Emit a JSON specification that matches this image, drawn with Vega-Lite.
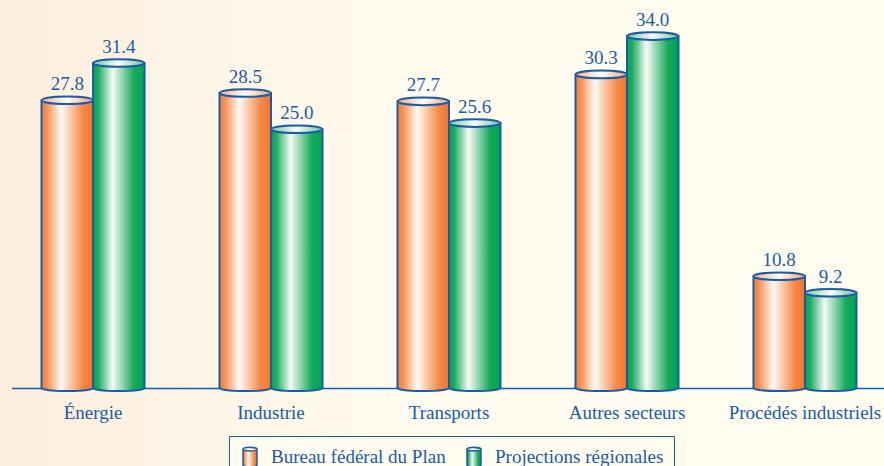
{"$schema":"https://vega.github.io/schema/vega-lite/v6.json","width":884,"height":466,"padding":0,"autosize":{"type":"none"},"background":"#fffcf0",
"config":{"view":{"stroke":null,"fill":{"gradient":"linear","x1":0,"y1":0,"x2":1,"y2":0,"stops":[{"offset":0,"color":"#fdeedd"},{"offset":0.45,"color":"#fffbef"},{"offset":1,"color":"#fffcf0"}]}}},
"data":{"values":[
{"secteur":"Énergie","serie":"Bureau fédéral du Plan","valeur":27.8},{"secteur":"Énergie","serie":"Projections régionales","valeur":31.4},
{"secteur":"Industrie","serie":"Bureau fédéral du Plan","valeur":28.5},{"secteur":"Industrie","serie":"Projections régionales","valeur":25.0},
{"secteur":"Transports","serie":"Bureau fédéral du Plan","valeur":27.7},{"secteur":"Transports","serie":"Projections régionales","valeur":25.6},
{"secteur":"Autres secteurs","serie":"Bureau fédéral du Plan","valeur":30.3},{"secteur":"Autres secteurs","serie":"Projections régionales","valeur":34.0},
{"secteur":"Procédés industriels","serie":"Bureau fédéral du Plan","valeur":10.8},{"secteur":"Procédés industriels","serie":"Projections régionales","valeur":9.2}]},
"encoding":{
"x":{"field":"secteur","type":"nominal","sort":null,"title":null,"scale":{"range":[11.5,886.5],"paddingInner":0.2,"paddingOuter":0.058},"axis":{"orient":"bottom","offset":-78,"domain":true,"domainColor":"#1a5ca8","domainWidth":1.5,"ticks":false,"labelAngle":0,"labelPadding":15,"labelFontSize":19,"labelFont":"Liberation Serif","labelColor":"#1a5ca8","labelBound":false,"labelOverlap":false,"labelFlush":false}},
"xOffset":{"field":"serie","type":"nominal","scale":{"domain":["Bureau fédéral du Plan","Projections régionales"],"paddingInner":0,"paddingOuter":0.3825}},
"y":{"field":"valeur","type":"quantitative","title":null,"axis":null,"scale":{"domain":[-7.536,37.49],"nice":false,"zero":false}}},
"layer":[
{"mark":{"type":"bar","stroke":"#1a5ca8","strokeWidth":2},"encoding":{"y2":{"datum":0},
"color":{"field":"serie","type":"nominal","title":null,"scale":{"domain":["Bureau fédéral du Plan","Projections régionales"],"range":[
{"expr":"{gradient:'linear',x1:0,y1:0,x2:1,y2:0,stops:[{offset:0,color:'#f5803a'},{offset:0.1,color:'#f68f52'},{offset:0.38,color:'#fffaf5'},{offset:0.8,color:'#f58a48'},{offset:1,color:'#f47528'}]}"},
{"expr":"{gradient:'linear',x1:0,y1:0,x2:1,y2:0,stops:[{offset:0,color:'#00a651'},{offset:0.1,color:'#1dab60'},{offset:0.38,color:'#f5faf5'},{offset:0.8,color:'#14a95a'},{offset:1,color:'#00a651'}]}"}]},
"legend":{"orient":"none","legendX":229,"legendY":436,"direction":"horizontal","columns":2,"padding":10,"strokeColor":"#1a5ca8","fillColor":"#fffcf0","labelFont":"Liberation Serif","labelFontSize":19,"labelColor":"#1a5ca8","labelLimit":300,"symbolType":"M-.7,-.8A.7,.18 0 0 1 .7,-.8L.7,.8A.7,.18 0 0 1 -.7,.8ZM-.7,-.8A.7,.18 0 0 0 .7,-.8","symbolSize":400,"symbolOpacity":1,"symbolStrokeWidth":1.5,"symbolStrokeColor":"#1a5ca8","labelOffset":10,"columnPadding":17}}}},
{"mark":{"type":"point","filled":true,"opacity":1,"shape":"M-1,-.04L-1,0A1,.12 0 0 0 1,0L1,-.04","stroke":"#1a5ca8","strokeWidth":2,"size":2600},"encoding":{"y":{"datum":0,"type":"quantitative"},"color":{"field":"serie","type":"nominal","legend":null}}},
{"mark":{"type":"point","filled":true,"opacity":1,"shape":"M-1,0A1,.15 0 1 1 1,0A1,.15 0 1 1 -1,0Z","stroke":"#1a5ca8","strokeWidth":2,"size":2600},"encoding":{
"fill":{"condition":{"test":"datum.serie==='Bureau fédéral du Plan'","value":{"gradient":"linear","x1":0,"y1":0,"x2":1,"y2":0,"stops":[{"offset":0,"color":"#f8b088"},{"offset":0.5,"color":"#fffdf8"},{"offset":1,"color":"#f8a878"}]}},"value":{"gradient":"linear","x1":0,"y1":0,"x2":1,"y2":0,"stops":[{"offset":0,"color":"#7ccba0"},{"offset":0.5,"color":"#fbfdf8"},{"offset":1,"color":"#6cc596"}]}}}},
{"mark":{"type":"text","fontSize":19,"font":"Liberation Serif","baseline":"alphabetic","dy":-10},"encoding":{"color":{"value":"#1a5ca8"},"text":{"field":"valeur","type":"quantitative","format":".1f"}}}
]}
